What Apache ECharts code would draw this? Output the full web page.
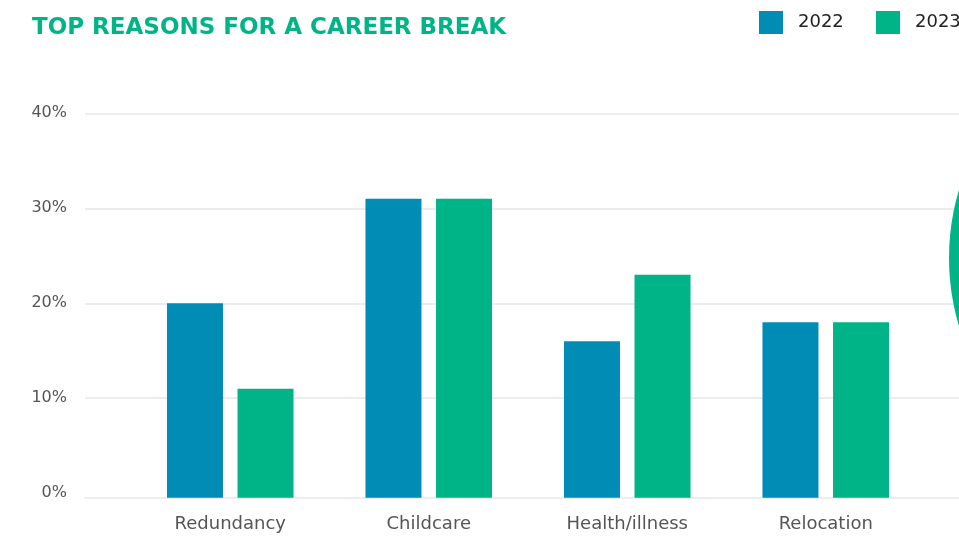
<!DOCTYPE html>
<html>
<head>
<meta charset="utf-8">
<script src="https://cdn.jsdelivr.net/npm/echarts@6/dist/echarts.min.js"></script>
<style>
  html, body { margin: 0; padding: 0; background: #ffffff; }
  #chart { width: 959px; height: 537px; }
</style>
</head>
<body>
<div id="chart"></div>
<script>
// Reasons given for taking a career break, share of respondents (%)
const categories = ['Redundancy', 'Childcare', 'Health/illness', 'Relocation'];
const values2022 = [20, 31, 16, 18];
const values2023 = [11, 31, 23, 18];
const yTicks = [0, 10, 20, 30, 40];

const BLUE = '#008cb5';
const GREEN = '#00b487';
const GRID_GREY = '#e6e6e6';
const FONT = '"DejaVu Sans", sans-serif';

// baseline sits a little below the zero value
const ZERO_DROP = 0.47;

const chart = echarts.init(document.getElementById('chart'), null, { renderer: 'canvas' });

const legendCommon = {
  padding: 0,
  top: 11,
  itemWidth: 24,
  itemHeight: 23,
  icon: 'rect',
  textStyle: { color: '#222222', fontFamily: FONT, fontSize: 18, padding: [7, 0, 0, 10] }
};

chart.setOption({
  animation: false,
  backgroundColor: '#ffffff',
  title: {
    text: 'TOP REASONS FOR A CAREER BREAK',
    left: 32,
    top: 17,
    padding: 0,
    textStyle: { color: GREEN, fontFamily: FONT, fontWeight: 'bold', fontSize: 23 }
  },
  legend: [
    Object.assign({ data: ['2022'], left: 759 }, legendCommon),
    Object.assign({ data: ['2023'], left: 876 }, legendCommon)
  ],
  grid: [
    // value frame: gridlines, value labels, baseline
    { left: 85, right: 0, top: 113.3, bottom: 43.8, containLabel: false },
    // bar area
    { left: 131, right: 34, top: 113.3, bottom: 39.3, containLabel: false }
  ],
  xAxis: [
    {
      gridIndex: 0,
      type: 'value',
      min: 0,
      max: 1,
      offset: 4.5,
      axisLine: { show: true, onZero: false, lineStyle: { color: GRID_GREY, width: 1.5 } },
      axisTick: { show: false },
      axisLabel: { show: false },
      splitLine: { show: false }
    },
    {
      gridIndex: 1,
      type: 'category',
      data: categories,
      axisLine: { show: false },
      axisTick: { show: false },
      axisLabel: { color: '#555555', fontFamily: FONT, fontSize: 18, margin: 18 }
    }
  ],
  yAxis: [
    {
      gridIndex: 0,
      type: 'value',
      min: yTicks[0],
      max: yTicks[yTicks.length - 1],
      interval: 10,
      axisLine: { show: false },
      axisTick: { show: false },
      axisLabel: {
        color: '#555555', fontFamily: FONT, fontSize: 16, margin: 18,
        formatter: v => v + '%'
      },
      splitLine: {
        lineStyle: {
          color: ['rgba(0,0,0,0)', GRID_GREY, GRID_GREY, GRID_GREY, GRID_GREY],
          width: 1.5
        }
      }
    },
    {
      gridIndex: 1,
      type: 'value',
      min: -ZERO_DROP,
      max: yTicks[yTicks.length - 1],
      startValue: -ZERO_DROP,
      show: false,
      splitLine: { show: false }
    }
  ],
  series: [
    {
      name: '2022',
      type: 'bar',
      xAxisIndex: 1,
      yAxisIndex: 1,
      data: values2022,
      barWidth: 56,
      barGap: '26%',
      itemStyle: { color: BLUE }
    },
    {
      name: '2023',
      type: 'bar',
      xAxisIndex: 1,
      yAxisIndex: 1,
      data: values2023,
      barWidth: 56,
      barGap: '26%',
      itemStyle: { color: GREEN }
    }
  ],
  graphic: [
    {
      // decorative disc at the right edge
      type: 'circle',
      shape: { cx: 1187, cy: 258, r: 238 },
      style: { fill: GREEN },
      z: 100
    }
  ]
});
</script>
</body>
</html>
